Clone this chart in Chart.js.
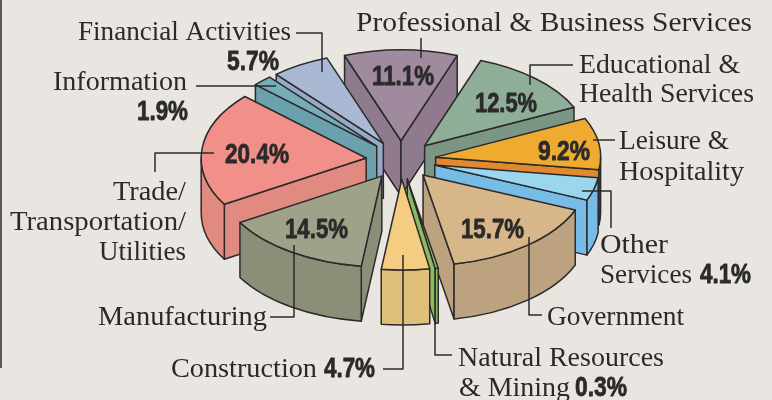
<!DOCTYPE html>
<html>
<head>
<meta charset="utf-8">
<script src="https://cdn.jsdelivr.net/npm/chart.js@4"></script>
<style>
  body { margin: 0; background: #e9e6e1; }
  canvas { display: block; }
</style>
</head>
<body>
<canvas id="pie" width="772" height="400"></canvas>
<script>
  // clockwise from the top slice
  const categories = ["Professional & Business Services", "Educational & Health Services", "Leisure & Hospitality", "Other Services", "Government", "Natural Resources & Mining", "Construction", "Manufacturing", "Trade/Transportation/Utilities", "Information", "Financial Activities"];
  const shares = [11.1, 12.5, 9.2, 4.1, 15.7, 0.3, 4.7, 14.5, 20.4, 1.9, 5.7];
  const topColors = ["#a08a9e", "#8fae98", "#efab30", "#9bd6ef", "#d7b68a", "#8fbf60", "#f4cd82", "#9fa289", "#f09089", "#76aeb8", "#a9b9d3"];
  const wallColors = ["#8f7b8d", "#7b9685", "#e2882f", "#76bce6", "#bda27f", "#8cba62", "#dfbf7a", "#8c8f78", "#e08a80", "#6ba0ad", "#98a9c6"];

  const INK = "#2b2a2b";
  const SQUASH = 0.55;    // ellipse height / width
  const DEPTH = 55;       // height of the pie wall
  const EXPLODE = 35;     // every slice is pulled out by this much
  const CENTER_Y = 160;
  const SERIF = "27px 'Liberation Serif'";
  const BOLD = "bold 28px 'Liberation Sans'";

  const pct = (i) => shares[i].toFixed(1) + "%";

  // text: [string, left, right, baseline, font], squeezed or stretched to fit left..right
  const texts = [
    ["Financial Activities", 78, 291, 40, SERIF],
    [pct(10), 227, 279, 70, BOLD],
    ["Professional & Business Services", 356, 752, 31, SERIF],
    ["Educational &", 579, 740, 73, SERIF],
    ["Health Services", 579, 754, 102, SERIF],
    ["Leisure &", 619, 729, 149, SERIF],
    ["Hospitality", 619, 744, 180, SERIF],
    ["Other", 600, 668, 253, SERIF],
    ["Services", 600, 692, 283, SERIF],
    [pct(3), 700, 751, 283, BOLD],
    ["Government", 547, 684, 325, SERIF],
    ["Natural Resources", 458, 664, 366, SERIF],
    ["& Mining", 459, 570, 396, SERIF],
    [pct(5), 575, 627, 396, BOLD],
    ["Construction", 171, 317, 377, SERIF],
    [pct(6), 324, 375, 377, BOLD],
    ["Manufacturing", 98, 267, 325, SERIF],
    ["Trade/", 113, 186, 200, SERIF],
    ["Transportation/", 10, 186, 230, SERIF],
    ["Utilities", 99, 186, 260, SERIF],
    ["Information", 53, 187, 90, SERIF],
    [pct(9), 137, 188, 120, BOLD],
    [pct(0), 372, 434, 85, BOLD],
    [pct(1), 475, 537, 112, BOLD],
    [pct(2), 538, 590, 160, BOLD],
    [pct(8), 225, 289, 163, BOLD],
    [pct(7), 285, 348, 238, BOLD],
    [pct(4), 461, 524, 238, BOLD],
  ];

  const leaders = [
    [[296, 33], [322, 33], [322, 72]],
    [[421, 38], [421, 58]],
    [[573, 65], [530, 65], [530, 85]],
    [[593, 140], [615, 140]],
    [[582, 191], [611, 191], [611, 228]],
    [[542, 315], [529, 315], [529, 237]],
    [[452, 355], [435, 355], [435, 322]],
    [[383, 369], [403, 369], [403, 255]],
    [[270, 317], [294, 317], [294, 245]],
    [[155, 172], [155, 153], [214, 153]],
    [[196, 86], [276, 86]],
    [[1, 0], [1, 368]],
  ];

  function drawSlice(ctx, arc, color) {
    const { x, y, startAngle: a0, endAngle: a1, outerRadius: r } = arc.getProps(["x", "y", "startAngle", "endAngle", "outerRadius"], true);
    const mid = (a0 + a1) / 2;
    const cx = x + Math.cos(mid) * EXPLODE;
    const cy = CENTER_Y + Math.sin(mid) * EXPLODE * SQUASH;
    const px = (a) => cx + Math.cos(a) * r;
    const py = (a) => cy + Math.sin(a) * r * SQUASH;

    ctx.lineWidth = 1.5;
    ctx.lineJoin = "round";
    ctx.strokeStyle = INK;
    ctx.fillStyle = color;

    // cut faces that look at the viewer
    [[a0, -Math.cos(a0)], [a1, Math.cos(a1)]].forEach(([a, facing]) => {
      if (facing <= 0) return;
      ctx.beginPath();
      ctx.moveTo(cx, cy);
      ctx.lineTo(px(a), py(a));
      ctx.lineTo(px(a), py(a) + DEPTH);
      ctx.lineTo(cx, cy + DEPTH);
      ctx.closePath();
      ctx.fill();
      ctx.stroke();
    });

    // outer wall, only the part in the front half of the ellipse
    for (let turn = -2; turn <= 2; turn++) {
      const from = Math.max(a0, turn * 2 * Math.PI);
      const to = Math.min(a1, turn * 2 * Math.PI + Math.PI);
      if (to <= from) continue;
      ctx.beginPath();
      ctx.ellipse(cx, cy, r, r * SQUASH, 0, from, to);
      ctx.lineTo(px(to), py(to) + DEPTH);
      ctx.ellipse(cx, cy + DEPTH, r, r * SQUASH, 0, to, from, true);
      ctx.closePath();
      ctx.fill();
      ctx.stroke();
    }

    // top face: the library's own arc, squashed onto the ellipse
    ctx.save();
    ctx.translate(cx, cy);
    ctx.scale(1, SQUASH);
    ctx.translate(-x, -y);
    arc.draw(ctx);
    ctx.restore();

    ctx.beginPath();
    ctx.moveTo(cx, cy);
    ctx.ellipse(cx, cy, r, r * SQUASH, 0, a0, a1);
    ctx.closePath();
    ctx.stroke();
  }

  const tiltedPie = {
    id: "tiltedPie",
    beforeDatasetsDraw(chart) {
      const ctx = chart.ctx;
      const arcs = chart.getDatasetMeta(0).data.map((arc, i) => ({ arc, i }));
      const depthOf = ({ arc }) => Math.sin((arc.startAngle + arc.endAngle) / 2);
      arcs.sort((p, q) => depthOf(p) - depthOf(q));
      arcs.forEach(({ arc, i }) => drawSlice(ctx, arc, wallColors[i]));
      return false;
    },
    afterDraw(chart) {
      const ctx = chart.ctx;
      ctx.strokeStyle = INK;
      ctx.lineWidth = 1.5;
      leaders.forEach((line) => {
        ctx.beginPath();
        line.forEach(([x, y], i) => (i ? ctx.lineTo(x, y) : ctx.moveTo(x, y)));
        ctx.stroke();
      });
      ctx.fillStyle = INK;
      ctx.lineWidth = 0.8;
      ctx.textBaseline = "alphabetic";
      ctx.textAlign = "left";
      texts.forEach(([text, left, right, y, font]) => {
        ctx.font = font;
        ctx.save();
        ctx.translate(left, y);
        ctx.scale((right - left) / ctx.measureText(text).width, 1);
        ctx.fillText(text, 0, 0);
        // the percentages are heavier than any installed bold
        if (font === BOLD) ctx.strokeText(text, 0, 0);
        ctx.restore();
      });
    },
  };

  new Chart(document.getElementById("pie"), {
    type: "pie",
    data: {
      labels: categories,
      datasets: [
        {
          data: shares,
          backgroundColor: topColors,
          borderWidth: 0,
          clip: false,
        },
      ],
    },
    options: {
      responsive: false,
      animation: false,
      rotation: -20,
      radius: 165,
      layout: { padding: { left: 30 } },
      plugins: { legend: { display: false }, tooltip: { enabled: false } },
    },
    plugins: [tiltedPie],
  });
</script>
</body>
</html>
